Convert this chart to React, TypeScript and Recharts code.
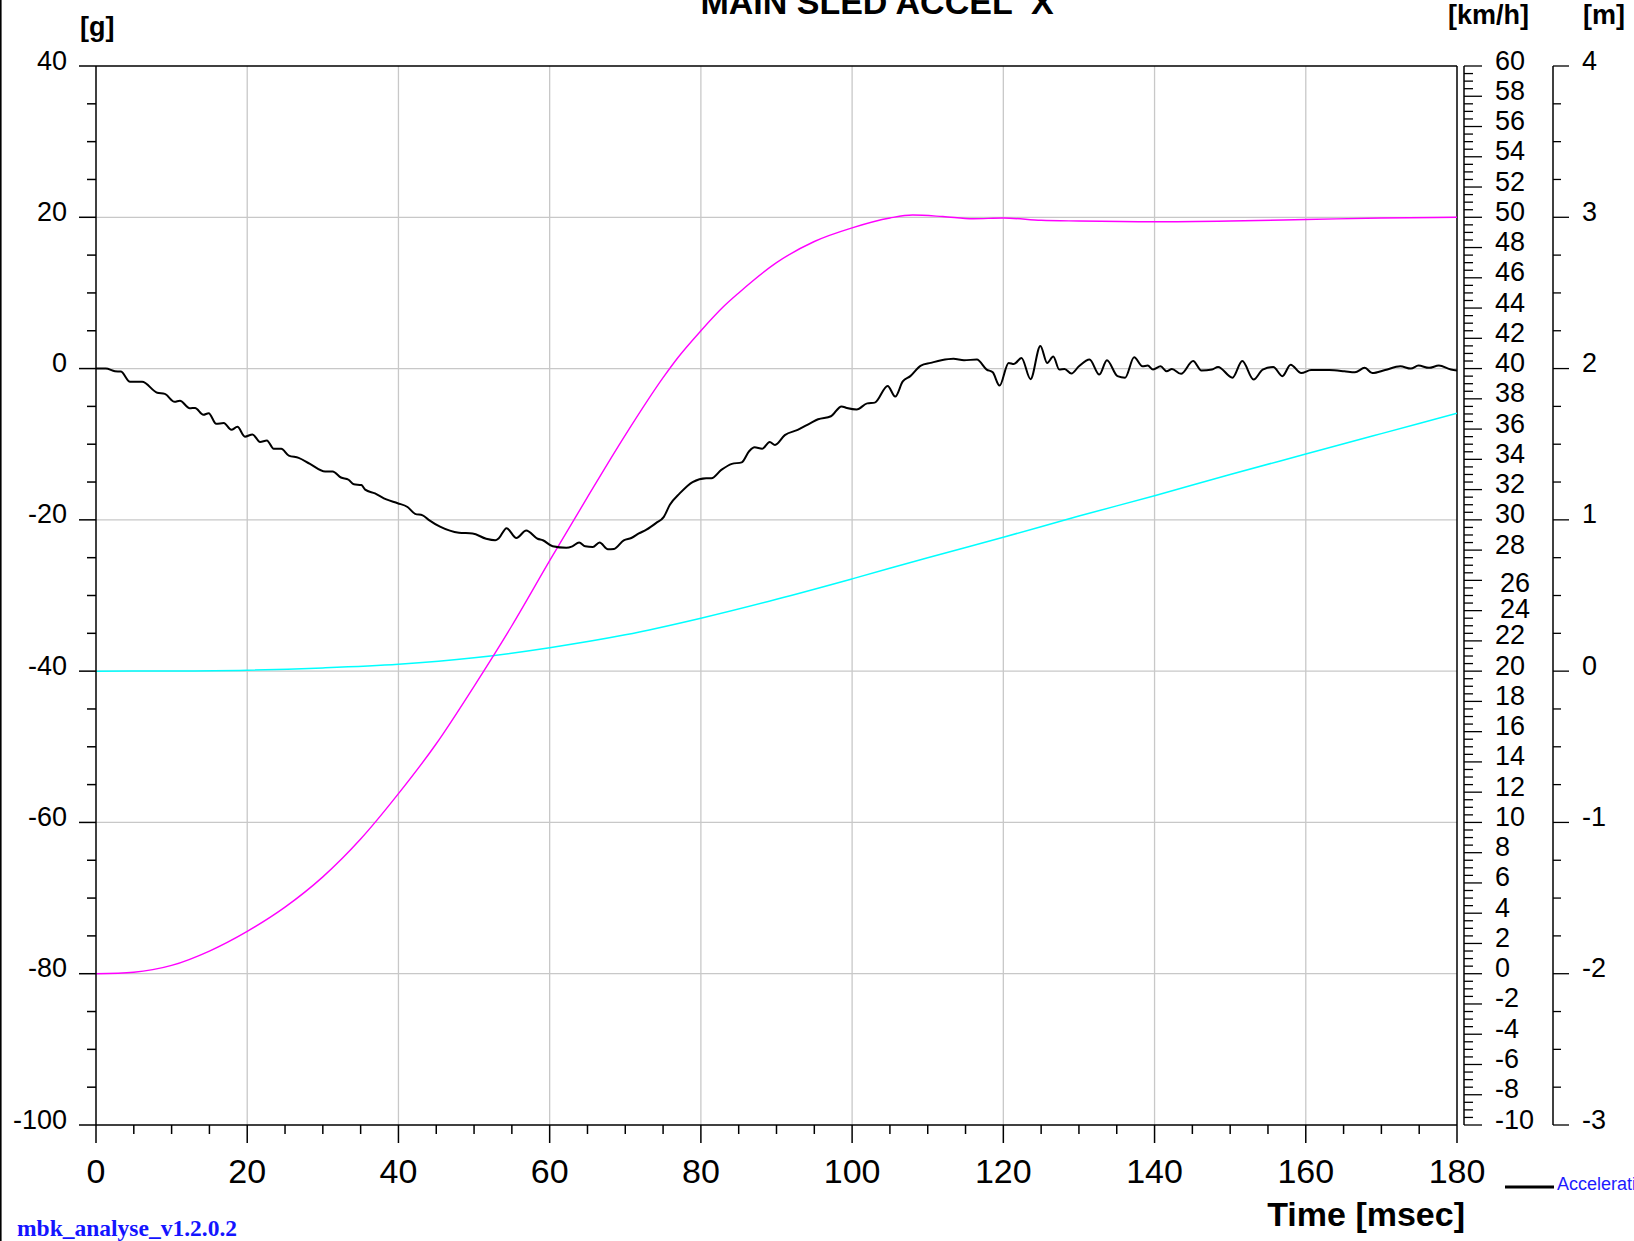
import React from 'react';
import { LineChart, Line, XAxis, YAxis, ReferenceLine } from 'recharts';

// ---------- layout ----------
const CHART_W = 1634;
const CHART_H = 1241;
const PLOT_LEFT = 96;
const PLOT_TOP = 66;
const PLOT_BOTTOM = 1125;
const KMH_AXIS_W = 96;
const M_AXIS_W = 81;

const FONT = "'Liberation Sans', Arial, Helvetica, sans-serif";
const SERIF = "'Liberation Serif', 'Times New Roman', serif";

// ---------- texts ----------
const TITLE = 'MAIN SLED ACCEL  X';
const G_UNIT = '[g]';
const KMH_UNIT = '[km/h]';
const M_UNIT = '[m]';
const X_TITLE = 'Time [msec]';
const FOOTER = 'mbk_analyse_v1.2.0.2';
const LEGEND_LABEL = 'Acceleration X';

// ---------- tick labels ----------
const timeLabels = [0, 20, 40, 60, 80, 100, 120, 140, 160, 180];
const gLabels = [40, 20, 0, -20, -40, -60, -80, -100];
const kmhLabels = [60, 58, 56, 54, 52, 50, 48, 46, 44, 42, 40, 38, 36, 34, 32, 30, 28, 26, 24, 22, 20, 18, 16, 14, 12, 10, 8, 6, 4, 2, 0, -2, -4, -6, -8, -10];
const mLabels = [4, 3, 2, 1, 0, -1, -2, -3];
const gridTimes = [20, 40, 60, 80, 100, 120, 140, 160];
const gridG = [20, 0, -20, -40, -60, -80];

// ---------- series ----------
// Acceleration [g] vs time [msec]
const accelPoints: [number, number][] = [
  [0, 0], [1.3, 0], [2.5, -0.35], [3.3, -0.4], [4.5, -1.75], [6.1, -1.75], [8.1, -3.2], [9.1, -3.35],
  [10.4, -4.4], [11.1, -4.25], [12.4, -5.25], [13.1, -5.2], [14.2, -6.1], [14.9, -5.9], [15.9, -7.3],
  [16.9, -7.2], [17.9, -8.1], [18.7, -7.7], [19.7, -9.0], [20.7, -8.7], [21.7, -9.7], [22.6, -9.5],
  [23.5, -10.6], [24.5, -10.6], [25.5, -11.5], [26.8, -11.8], [28.3, -12.6], [30.3, -13.6], [31.3, -13.6],
  [32.4, -14.4], [33.4, -14.7], [34.1, -15.3], [35.1, -15.4], [35.6, -16.0], [36.9, -16.5], [38.4, -17.3],
  [39.9, -17.8], [41.2, -18.3], [42.2, -19.2], [43.2, -19.4], [44.0, -20.0], [45.5, -20.9], [48.0, -21.7],
  [49.8, -21.8], [51.6, -22.5], [52.8, -22.7], [53.3, -22.4], [54.3, -21.1], [55.6, -22.4], [56.9, -21.4],
  [58.4, -22.5], [59.1, -22.7], [60.4, -23.5], [62.2, -23.7], [63.0, -23.5], [63.9, -23.0], [64.7, -23.5],
  [65.7, -23.6], [66.6, -23.0], [67.7, -23.9], [68.5, -23.85], [69.8, -22.7], [70.8, -22.4], [71.8, -21.8],
  [72.8, -21.3], [74.1, -20.4], [75.1, -19.6], [75.9, -18.0], [77.2, -16.5], [78.9, -15.0], [80.7, -14.5],
  [81.4, -14.5], [82.7, -13.4], [84.1, -12.6], [85.4, -12.4], [86.4, -10.9], [87.1, -10.4], [88.1, -10.6],
  [89.1, -9.7], [89.8, -10.1], [91.1, -8.8], [92.8, -8.1], [94.5, -7.2], [95.5, -6.7], [97.2, -6.3],
  [98.6, -5.0], [99.3, -5.2], [100.6, -5.4], [102.0, -4.6], [103.0, -4.5], [104.7, -2.3], [105.7, -3.7],
  [106.7, -1.7], [107.7, -1.0], [109.1, 0.4], [110.4, 0.75], [111.8, 1.1], [113.4, 1.3], [114.8, 1.1],
  [116.5, 1.2], [117.8, -0.13], [118.6, -0.5], [119.5, -2.25], [120.7, 0.75], [121.4, 0.6], [122.4, 1.4],
  [123.6, -1.4], [124.9, 3.0], [125.8, 0.75], [126.6, 1.6], [127.4, -0.13], [128.1, -0.05], [129.0, -0.66],
  [130.0, 0.3], [131.4, 1.2], [132.7, -0.8], [133.7, 1.1], [135.1, -1.0], [136.1, -1.2], [137.3, 1.5],
  [138.4, 0.3], [139.1, 0.4], [139.8, -0.13], [140.8, 0.3], [141.6, -0.35], [142.3, -0.05], [143.5, -0.7],
  [145.1, 1.0], [146.2, -0.26], [147.6, -0.13], [148.4, 0.22], [150.3, -1.2], [151.6, 1.0], [153.1, -1.45],
  [154.3, -0.13], [155.7, 0.22], [156.9, -1.0], [158.0, 0.5], [159.4, -0.6], [160.7, -0.2], [163.1, -0.2],
  [165.1, -0.35], [166.5, -0.5], [167.8, 0.1], [168.8, -0.6], [170.5, -0.2], [172.5, 0.3], [173.9, 0],
  [174.9, 0.4], [176.3, 0.1], [177.6, 0.4], [179.2, -0.13], [180, -0.25],
];

// Velocity [km/h] vs time [msec]
const velocityPoints: [number, number][] = [
  [0, 0], [5, 0.1], [10, 0.55], [15, 1.5], [20, 2.8], [25, 4.4], [30, 6.4], [35, 8.9], [40, 11.9],
  [45, 15.2], [50, 19.0], [55, 23.0], [60, 27.3], [65, 31.5], [70, 35.6], [75, 39.4], [77, 40.75],
  [80, 42.5], [83, 44.1], [85, 45.0], [90, 47.0], [95, 48.4], [100, 49.3], [105, 49.95], [108, 50.15],
  [112, 50.05], [116, 49.9], [120, 49.95], [125, 49.8], [130, 49.75], [140, 49.7], [150, 49.75],
  [160, 49.85], [170, 49.95], [180, 50.0],
];

// Displacement [m] vs time [msec]
const displacementPoints: [number, number][] = [
  [0, 0], [10, 0.001], [20, 0.006], [30, 0.021], [40, 0.045], [50, 0.088], [60, 0.155], [70, 0.24],
  [80, 0.35], [90, 0.475], [100, 0.61], [110, 0.75], [120, 0.885], [130, 1.025], [140, 1.16],
  [150, 1.3], [160, 1.435], [170, 1.57], [180, 1.705],
];

const toRows = (pts: [number, number][]) => pts.map(([t, v]) => ({ t, v }));
const accelData = toRows(accelPoints);
const velocityData = toRows(velocityPoints);
const displacementData = toRows(displacementPoints);

function stepTicks(min: number, max: number, step: number) {
  const n = Math.round((max - min) / step);
  return Array.from({ length: n + 1 }, (_, i) => +(min + i * step).toFixed(3));
}
const timeTicks = stepTicks(0, 180, 5);
const gTicks = stepTicks(-100, 40, 5);
const kmhTicks = stepTicks(-10, 60, 0.5);
const mTicks = stepTicks(-3, 4, 0.25);

const LABEL_DY = 3.5;

// ---------- tick renderers ----------
const TimeTick = (props: any) => {
  const { x, y, payload } = props;
  const v = payload.value;
  const major = timeLabels.includes(v);
  return (
    <g>
      <line x1={x} x2={x} y1={y} y2={y + (major ? 18 : 9)} stroke="#000" strokeWidth={1.5} />
      {major && (
        <text x={x} y={y + 58} textAnchor="middle" fontFamily={FONT} fontSize={34} fill="#000">
          {v}
        </text>
      )}
    </g>
  );
};

const GTick = (props: any) => {
  const { x, y, payload } = props;
  const v = payload.value;
  const major = gLabels.includes(v);
  return (
    <g>
      <line x1={x - (major ? 17 : 9)} x2={x} y1={y} y2={y} stroke="#000" strokeWidth={1.5} />
      {major && (
        <text x={x - 29} y={y + LABEL_DY} textAnchor="end" fontFamily={FONT} fontSize={27} fill="#000">
          {v}
        </text>
      )}
    </g>
  );
};

const kmhNudge: Record<number, [number, number]> = { 26: [5, 8], 24: [5, 4] };
const KmhTick = (props: any) => {
  const { x, y, payload } = props;
  const v = payload.value;
  const major = kmhLabels.includes(v);
  const ax = x + 7;
  const [dx, dy] = kmhNudge[v] || [0, 0];
  return (
    <g>
      <line x1={ax} x2={ax + (major ? 18 : 9)} y1={y} y2={y} stroke="#000" strokeWidth={1.3} />
      {major && (
        <text x={x + 38 + dx} y={y + LABEL_DY + dy} textAnchor="start" fontFamily={FONT} fontSize={27} fill="#000">
          {v}
        </text>
      )}
    </g>
  );
};

const MTick = (props: any) => {
  const { x, y, payload } = props;
  const v = payload.value;
  const major = mLabels.includes(v);
  return (
    <g>
      <line x1={x} x2={x + (major ? 16 : 8)} y1={y} y2={y} stroke="#000" strokeWidth={1.3} />
      {major && (
        <text x={x + 29} y={y + LABEL_DY} textAnchor="start" fontFamily={FONT} fontSize={27} fill="#000">
          {v}
        </text>
      )}
    </g>
  );
};

export default function App() {
  const plotRight = CHART_W - KMH_AXIS_W - M_AXIS_W;
  const kmhAxisX = plotRight + 7;
  const mAxisX = plotRight + KMH_AXIS_W;
  return (
    <div
      style={{
        position: 'absolute',
        left: 0,
        top: 0,
        width: CHART_W,
        height: CHART_H,
        background: '#fff',
        overflow: 'hidden',
      }}
    >
      <LineChart
        width={CHART_W}
        height={CHART_H}
        margin={{ top: PLOT_TOP, right: 0, bottom: 0, left: 0 }}
      >
        <XAxis
          dataKey="t"
          type="number"
          domain={[0, 180]}
          ticks={timeTicks}
          interval={0}
          height={CHART_H - PLOT_BOTTOM}
          tickSize={0}
          tickMargin={0}
          tickLine={false}
          axisLine={{ stroke: '#000', strokeWidth: 1.5 }}
          tick={(p: any) => <TimeTick {...p} />}
          allowDataOverflow
        />
        <YAxis
          yAxisId="g"
          orientation="left"
          width={PLOT_LEFT}
          domain={[-100, 40]}
          ticks={gTicks}
          interval={0}
          tickSize={0}
          tickMargin={0}
          tickLine={false}
          axisLine={{ stroke: '#000', strokeWidth: 1.5 }}
          tick={(p: any) => <GTick {...p} />}
          allowDataOverflow
        />
        <YAxis
          yAxisId="kmh"
          orientation="right"
          width={KMH_AXIS_W}
          domain={[-10, 60]}
          ticks={kmhTicks}
          interval={0}
          tickSize={0}
          tickMargin={0}
          tickLine={false}
          axisLine={false}
          tick={(p: any) => <KmhTick {...p} />}
          allowDataOverflow
        />
        <YAxis
          yAxisId="m"
          orientation="right"
          width={M_AXIS_W}
          domain={[-3, 4]}
          ticks={mTicks}
          interval={0}
          tickSize={0}
          tickMargin={0}
          tickLine={false}
          axisLine={false}
          tick={(p: any) => <MTick {...p} />}
          allowDataOverflow
        />
        {gridTimes.map((t) => (
          <ReferenceLine key={'gx' + t} yAxisId="g" x={t} stroke="#c8c8c8" strokeWidth={1.3} />
        ))}
        {gridG.map((g) => (
          <ReferenceLine key={'gy' + g} yAxisId="g" y={g} stroke="#c8c8c8" strokeWidth={1.3} />
        ))}
        <ReferenceLine yAxisId="g" y={40} stroke="#000" strokeWidth={1.5} />
        <ReferenceLine yAxisId="g" x={180} stroke="#000" strokeWidth={1.5} />
        <Line
          yAxisId="m"
          data={displacementData}
          dataKey="v"
          type="monotone"
          stroke="#00ffff"
          strokeWidth={1.5}
          dot={false}
          activeDot={false}
          isAnimationActive={false}
        />
        <Line
          yAxisId="kmh"
          data={velocityData}
          dataKey="v"
          type="monotone"
          stroke="#ff00ff"
          strokeWidth={1.4}
          dot={false}
          activeDot={false}
          isAnimationActive={false}
        />
        <Line
          yAxisId="g"
          data={accelData}
          dataKey="v"
          type="monotone"
          stroke="#000"
          strokeWidth={2}
          dot={false}
          activeDot={false}
          isAnimationActive={false}
        />
      </LineChart>
      <svg
        width={CHART_W}
        height={CHART_H}
        style={{ position: 'absolute', left: 0, top: 0, pointerEvents: 'none' }}
      >
        <line x1={0.8} x2={0.8} y1={0} y2={CHART_H} stroke="#000" strokeWidth={1.6} />
        <line x1={kmhAxisX} x2={kmhAxisX} y1={PLOT_TOP} y2={PLOT_BOTTOM} stroke="#000" strokeWidth={1.5} />
        <line x1={mAxisX} x2={mAxisX} y1={PLOT_TOP} y2={PLOT_BOTTOM} stroke="#000" strokeWidth={1.5} />
        <text x={877} y={14} textAnchor="middle" fontFamily={FONT} fontWeight="bold" fontSize={34} fill="#000" style={{ whiteSpace: 'pre' }}>
          {TITLE}
        </text>
        <text x={80} y={36} fontFamily={FONT} fontWeight="bold" fontSize={27} fill="#000">
          {G_UNIT}
        </text>
        <text x={1448} y={24} fontFamily={FONT} fontWeight="bold" fontSize={27} fill="#000">
          {KMH_UNIT}
        </text>
        <text x={1583} y={24} fontFamily={FONT} fontWeight="bold" fontSize={27} fill="#000">
          {M_UNIT}
        </text>
        <text x={1465} y={1226} textAnchor="end" fontFamily={FONT} fontWeight="bold" fontSize={34} fill="#000">
          {X_TITLE}
        </text>
        <text x={17} y={1236} fontFamily={SERIF} fontWeight="bold" fontSize={23.5} fill="#1414ff">
          {FOOTER}
        </text>
        <line x1={1505} x2={1554} y1={1187} y2={1187} stroke="#000" strokeWidth={3} />
        <text x={1557} y={1190} fontFamily={FONT} fontSize={18} fill="#1c1cff">
          {LEGEND_LABEL}
        </text>
      </svg>
    </div>
  );
}
